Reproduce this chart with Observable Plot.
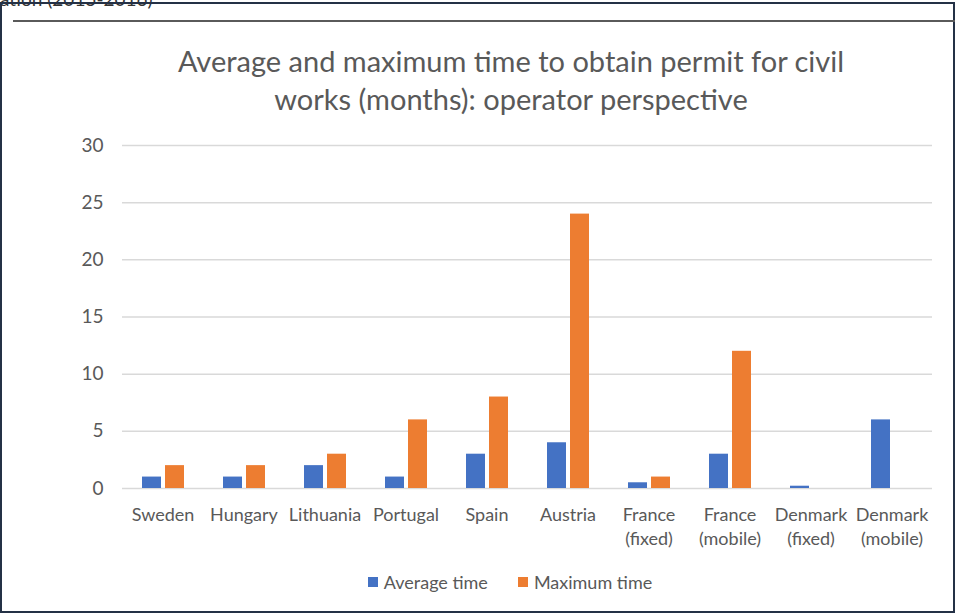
<!DOCTYPE html>
<html>
<head>
<meta charset="utf-8">
<script src="https://cdn.jsdelivr.net/npm/d3@7"></script>
<script src="https://cdn.jsdelivr.net/npm/@observablehq/plot@0.6"></script>
<style>
  html, body { margin: 0; padding: 0; background: #fff; }
  #page { position: relative; width: 955px; height: 614px; overflow: hidden; font-family: Lato, "Open Sans", sans-serif; }
  #frame { position: absolute; left: 0; top: 2px; width: 951px; height: 607px; border: 2px solid #243146; }
  #inner { position: absolute; left: 13px; top: 20px; width: 942px; height: 0; border-top: 2px solid #5a5a5a; }
  #cut { position: absolute; left: 0; top: -13px; font-size: 19px; color: #333; white-space: nowrap; }
  #title { position: absolute; left: 0; width: 955px; top: 42px; text-align: center; font-size: 29px; line-height: 38px; color: #595959; padding-left: 67px; box-sizing: border-box; }
  #chart { position: absolute; left: 0; top: 120px; }
  #legend { position: absolute; top: 571px; left: 0; width: 955px; display: flex; justify-content: center; gap: 30px; font-size: 18px; color: #595959; padding-left: 65px; box-sizing: border-box; }
  .item { display: flex; align-items: center; gap: 6px; }
  .sw { width: 10px; height: 10px; display: inline-block; }
</style>
</head>
<body>
<div id="page">
  <div id="cut">ation (2015-2016)</div>
  <div id="frame"></div>
  <div id="inner"></div>
  <div id="title">Average and maximum time to obtain permit for civil<br>works (months): operator perspective</div>
  <div id="chart"></div>
  <div id="legend"></div>
</div>
<script>
const countries = ["Sweden", "Hungary", "Lithuania", "Portugal", "Spain", "Austria", "France\n(fixed)", "France\n(mobile)", "Denmark\n(fixed)", "Denmark\n(mobile)"];
const averageTime = [1, 1, 2, 1, 3, 4, 0.5, 3, 0.2, 6];
const maximumTime = [2, 2, 3, 6, 8, 24, 1, 12, 0, 0];
const seriesNames = ["Average time", "Maximum time"];
const seriesColors = ["#4472c4", "#ed7d31"];
const yTicks = [0, 5, 10, 15, 20, 25, 30];

const data = [];
countries.forEach((c, i) => {
  data.push({country: c, series: seriesNames[0], value: averageTime[i]});
  data.push({country: c, series: seriesNames[1], value: maximumTime[i]});
});

const chart = Plot.plot({
  width: 955,
  height: 440,
  marginTop: 25,
  marginBottom: 72,
  marginLeft: 118,
  marginRight: 20,
  style: {fontFamily: "Lato, 'Open Sans', sans-serif", fontSize: "18px", color: "#595959", background: "transparent", overflow: "visible"},
  fx: {domain: countries, padding: 0, label: null},
  x: {domain: seriesNames, paddingInner: 0.18, paddingOuter: 0.8, axis: null},
  y: {domain: [0, 30], label: null},
  color: {domain: seriesNames, range: seriesColors},
  marks: [
    Plot.gridY(yTicks, {stroke: "#d9d9d9", strokeOpacity: 1, strokeWidth: 1.5}),
    Plot.axisY(yTicks, {tickSize: 0, tickPadding: 19, label: null, fontSize: 19, fill: "#595959"}),
    Plot.axisFx({anchor: "bottom", tickSize: 0, tickPadding: 16, label: null, fontSize: 18, fill: "#595959", lineHeight: 1.3}),
    Plot.barY(data, {fx: "country", x: "series", y: "value", fill: "series"})
  ]
});
document.getElementById("chart").appendChild(chart);

const legend = document.getElementById("legend");
seriesNames.forEach((s, i) => {
  const it = document.createElement("div");
  it.className = "item";
  const sw = document.createElement("span");
  sw.className = "sw";
  sw.style.background = seriesColors[i];
  it.appendChild(sw);
  it.appendChild(document.createTextNode(s));
  legend.appendChild(it);
});
</script>
</body>
</html>
